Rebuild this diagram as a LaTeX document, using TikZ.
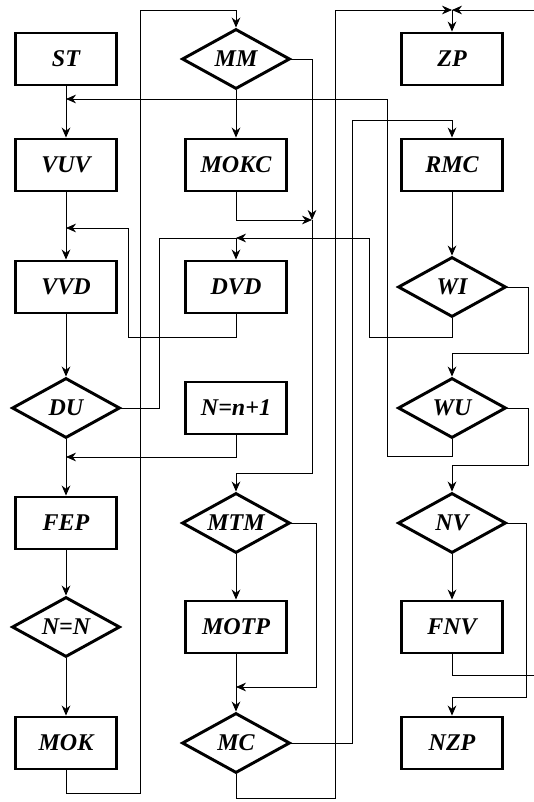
\documentclass[tikz,border=0pt]{standalone}
\usepackage{fontspec}
\setmainfont{Liberation Serif}
\usetikzlibrary{shapes.geometric,arrows.meta}

\begin{document}
\begin{tikzpicture}[x=0.75pt, y=-0.75pt, line width=0.6pt, >={Stealth[length=7.5pt,width=6.5pt]},
    block/.style={draw, line width=2.2pt, minimum width=76pt, minimum height=39pt, inner sep=0pt,
      font=\bfseries\itshape\fontsize{18}{21}\selectfont},
    decision/.style={draw, diamond, aspect=1.76, line width=2.2pt, minimum width=81pt, minimum height=45pt,
      inner sep=0pt, font=\bfseries\itshape\fontsize{18}{21}\selectfont}]
            \useasboundingbox (0,0) rectangle (533,802);
            % Nodes
            \node[block] (st) at (66,59) {ST};
            \node[block] (vuv) at (66,165) {VUV};
            \node[block] (vvd) at (66,287) {VVD};
            \node[decision] (du) at (66,408) {DU};
            \node[block] (fep) at (66,523) {FEP};
            \node[decision] (nn) at (66,627) {N=N};
            \node[block] (mok) at (66,743) {MOK};
            \node[decision] (mm) at (236,59) {MM};
            \node[block] (mokc) at (236,165) {MOKC};
            \node[block] (dvd) at (236,287) {DVD};
            \node[block] (ninc) at (236,408) {N=n+1};
            \node[decision] (mtm) at (236,523) {MTM};
            \node[block] (motp) at (236,627) {MOTP};
            \node[decision] (mc) at (236,743) {MC};
            \node[block] (zp) at (452,59) {ZP};
            \node[block] (rmc) at (452,165) {RMC};
            \node[decision] (wi) at (452,287) {WI};
            \node[decision] (wu) at (452,408) {WU};
            \node[decision] (nv) at (452,523) {NV};
            \node[block] (fnv) at (452,627) {FNV};
            \node[block] (nzp) at (452,743) {NZP};
            % Junctions
            \coordinate (jvuv) at (66,99);
            \coordinate (jvvd) at (66,228);
            \coordinate (jfep) at (66,457);
            \coordinate (jmm) at (312,220);
            \coordinate (jdvd) at (236,238);
            \coordinate (jmc) at (236,687);
            \coordinate (jzp) at (452,10);
          % Arrows
          \draw[->] (st) -- (vuv);
          \draw[->] (vuv) -- (vvd);
          \draw[->] (vvd) -- (du);
          \draw[->] (du) -- (fep);
          \draw[->] (fep) -- (nn);
          \draw[->] (nn) -- (mok);
          \draw[->] (mm) -- (mokc);
          \draw[->] (mtm) -- (motp);
          \draw[->] (motp) -- (mc);
          \draw[->] (rmc) -- (wi);
          \draw[->] (nv) -- (fnv);
          % Loops
          \draw[->] (mok.south) -- ++(0,23) -| (140,10) -| (mm.north);
          \draw[->] (mm.east) -| (jmm);
          \draw[->] (mokc.south) |- (jmm);
          \draw[->] (jmm) -- (312,473) -| (mtm.north);
          \draw[->] (wu.south) -- ++(0,17) -| (387,99) -- (jvuv);
          \draw[->] (dvd.south) -- ++(0,23) -| (128,228) -- (jvvd);
          \draw (du.east) -| (159,238) -- (jdvd);
          \draw[->] (wi.south) -- ++(0,19) -| (369,238) -- (jdvd);
          \draw[->] (jdvd) -- (dvd);
          \draw[->] (ninc.south) |- (jfep);
          \draw[->] (mtm.east) -| (316,687) -- (jmc);
          \draw[->] (mc.south) -- ++(0,24) -| (335,10) -- (jzp);
          \draw[->] (jzp) -- (zp);
          \draw[->] (mc.east) -| (352,120) -| (rmc.north);
          \draw[->] (wi.east) -| (528,353) -| (wu.north);
          \draw[->] (wu.east) -| (528,465) -| (nv.north);
          \draw[->] (nv.east) -| (526,697) -| (nzp.north);
          \draw[->] (fnv.south) -- ++(0,21) -| (536,10) -- (jzp);
        \end{tikzpicture}
\end{document}
